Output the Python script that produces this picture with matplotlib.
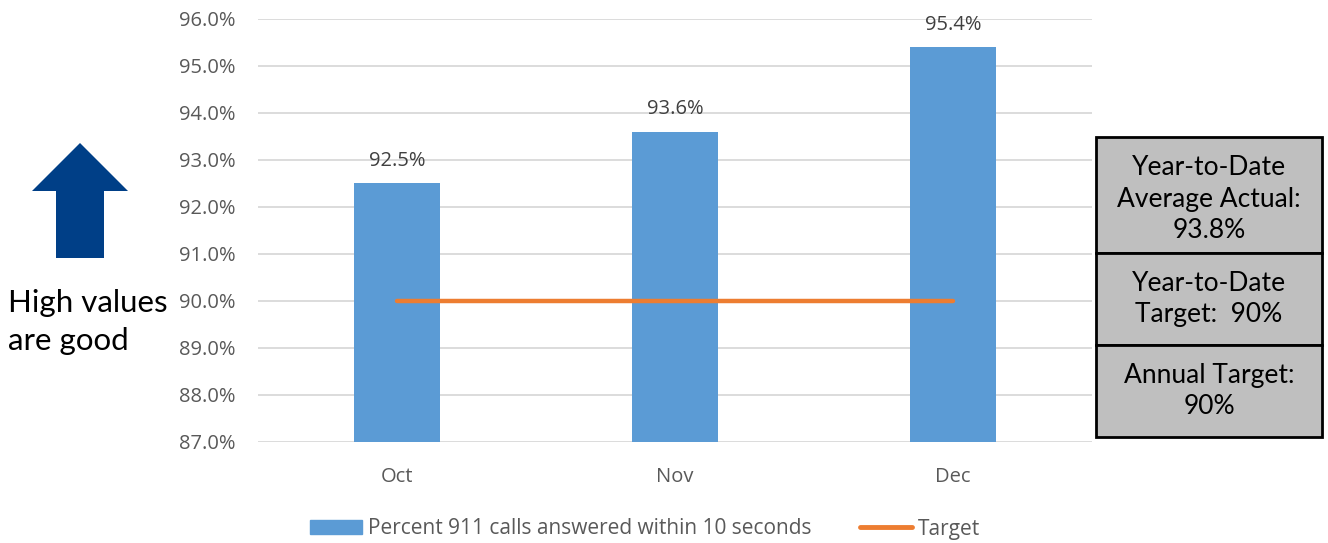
import matplotlib
matplotlib.use("Agg")
import matplotlib.pyplot as plt
from matplotlib.patches import Polygon, Rectangle
from matplotlib.lines import Line2D

# chart data
months = ["Oct", "Nov", "Dec"]
percent_answered = [92.5, 93.6, 95.4]
target = [90.0, 90.0, 90.0]
y_ticks = [87, 88, 89, 90, 91, 92, 93, 94, 95, 96]
box_texts = ["Year-to-Date\nAverage Actual:\n93.8%",
             "Year-to-Date\nTarget:  90%",
             "Annual Target:\n90%"]

bar_color = "#5B9BD5"
line_color = "#ED7D31"
text_gray = "#595959"

plt.rcParams["font.family"] = ["Open Sans", "DejaVu Sans"]

fig = plt.figure(figsize=(13.28, 5.43), dpi=100)
ax = fig.add_axes([258 / 1328, 1 - 442 / 543, (1092 - 258) / 1328, (442 - 19) / 543])

x = list(range(len(months)))
ax.bar(x, [v - 87 for v in percent_answered], bottom=87, width=0.31,
       color=bar_color, zorder=2)
ax.plot(x, target, color=line_color, lw=3.2, solid_capstyle="round", zorder=3)

for xi, v in zip(x, percent_answered):
    ax.text(xi, v + 0.48, f"{v:.1f}%", ha="center", va="center",
            fontsize=14.5, color="#404040")

ax.set_xlim(-0.5, 2.5)
ax.set_ylim(87, 96)
ax.set_yticks(y_ticks)
ax.set_yticklabels([f"{t:.1f}%" for t in y_ticks])
ax.set_xticks(x)
ax.set_xticklabels(months)
ax.tick_params(axis="y", length=0, pad=16, labelsize=14.5, labelcolor=text_gray)
ax.tick_params(axis="x", length=0, pad=18, labelsize=14.5, labelcolor=text_gray)
ax.grid(axis="y", color="#D9D9D9", lw=1.3, zorder=0)
for s in ax.spines.values():
    s.set_visible(False)

# legend
handles = [Rectangle((0, 0), 1, 1, color=bar_color),
           Line2D([0], [0], color=line_color, lw=3.5, solid_capstyle="round")]
fig.legend(handles, ["Percent 911 calls answered within 10 seconds", "Target"],
           loc="center", bbox_to_anchor=(645 / 1328, 1 - 529 / 543), ncol=2,
           frameon=False, fontsize=15, labelcolor=text_gray, handlelength=2.5,
           handleheight=0.65, handletextpad=0.3, columnspacing=2.3,
           borderpad=0, borderaxespad=0)

# arrow on the left
W, H = 1328, 543
arrow_px = [(80, 143), (128, 191), (104, 191), (104, 258), (56, 258), (56, 191), (32, 191)]
arrow = Polygon([(px / W, 1 - py / H) for px, py in arrow_px], closed=True,
                facecolor="#003F87", edgecolor="none", transform=fig.transFigure)
fig.patches.append(arrow)
fig.text(8 / W, 1 - 322 / H, "High values\nare good", ha="left", va="center",
         fontsize=22.5, family=["Lato", "DejaVu Sans"], color="black", linespacing=1.4)

# summary boxes on the right (text centre nudged per box)
box_edges = [137, 253, 345, 437]
text_shift = [4, 0, 0]
for i, txt in enumerate(box_texts):
    top, bot = box_edges[i], box_edges[i + 1]
    rect = Rectangle((1096 / W, 1 - bot / H), (1322 - 1096) / W, (bot - top) / H,
                     facecolor="#BFBFBF", edgecolor="black", lw=2,
                     transform=fig.transFigure)
    fig.patches.append(rect)
    cy = (top + bot) / 2 + text_shift[i]
    fig.text(1209 / W, 1 - cy / H, txt, ha="center", va="center",
             fontsize=19, family=["Lato", "DejaVu Sans"], color="black",
             linespacing=1.32)

fig.savefig("out.png", dpi=100)
